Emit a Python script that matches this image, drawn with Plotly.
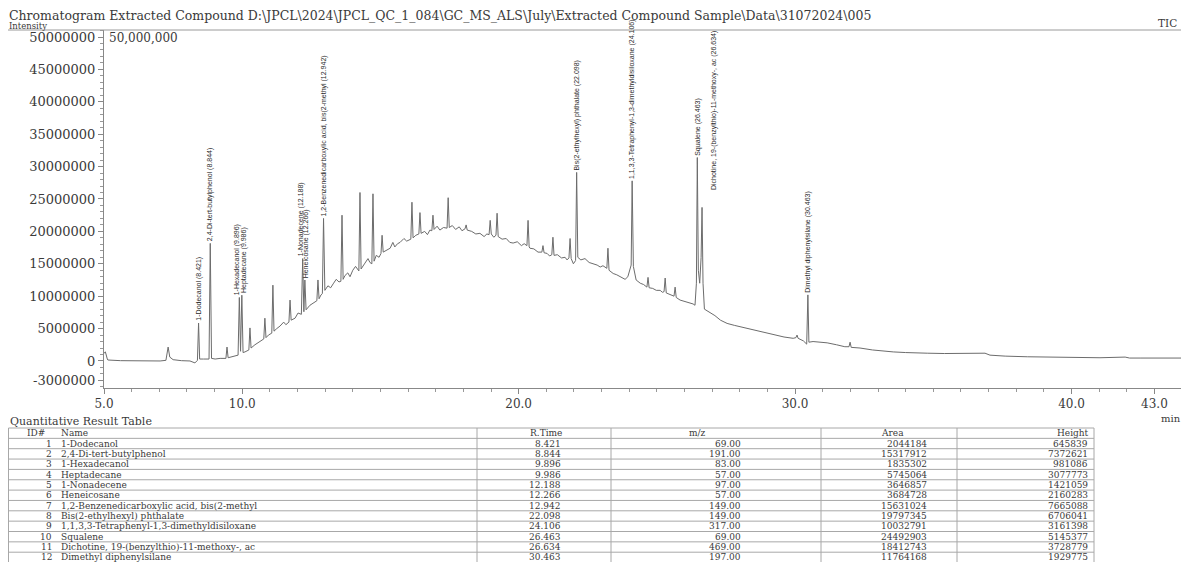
import plotly.graph_objects as go

# ---------------- chromatogram (TIC) ----------------
rt = [5.00, 5.05, 5.12, 5.14, 5.60, 6.66, 7.03, 7.24, 7.32, 7.38, 7.50, 7.80, 8.11, 8.29, 8.38, 8.421, 8.46, 8.60,
      8.80, 8.844, 8.89, 9.02, 9.20, 9.41, 9.45, 9.49, 9.56, 9.70, 9.85, 9.896, 9.94, 9.986, 10.03, 10.10, 10.24,
      10.28, 10.32, 10.46, 10.62, 10.78, 10.82, 10.86, 10.95, 11.07, 11.11, 11.15, 11.25, 11.37, 11.50, 11.58,
      11.69, 11.73, 11.77, 11.91, 12.02, 12.14, 12.188, 12.23, 12.266, 12.31, 12.45, 12.58, 12.70, 12.74, 12.78,
      12.85, 12.90, 12.942, 12.99, 13.10, 13.20, 13.29, 13.40, 13.50, 13.57, 13.61, 13.65, 13.72, 13.82, 13.90,
      14.00, 14.10, 14.22, 14.26, 14.30, 14.44, 14.55, 14.62, 14.69, 14.73, 14.77, 14.85, 14.95, 15.02, 15.06,
      15.10, 15.22, 15.35, 15.45, 15.52, 15.62, 15.71, 15.85, 15.95, 16.10, 16.14, 16.18, 16.28, 16.39, 16.43,
      16.47, 16.60, 16.70, 16.79, 16.86, 16.90, 16.94, 17.05, 17.15, 17.28, 17.41, 17.45, 17.49, 17.60, 17.72,
      17.85, 17.95, 18.06, 18.10, 18.14, 18.30, 18.45, 18.60, 18.75, 18.85, 18.93, 18.97, 19.01, 19.10, 19.18,
      19.22, 19.26, 19.40, 19.55, 19.68, 19.80, 19.95, 20.10, 20.20, 20.30, 20.34, 20.38, 20.41, 20.55, 20.70,
      20.84, 20.88, 20.92, 21.03, 21.12, 21.20, 21.24, 21.28, 21.40, 21.55, 21.68, 21.75, 21.82, 21.86, 21.90,
      21.98, 22.06, 22.098, 22.14, 22.25, 22.40, 22.55, 22.70, 22.84, 22.95, 23.05, 23.19, 23.23, 23.27, 23.42,
      23.55, 23.70, 23.85, 23.95, 24.03, 24.07, 24.106, 24.15, 24.25, 24.40, 24.52, 24.64, 24.68, 24.72, 24.85,
      24.98, 25.12, 25.20, 25.26, 25.30, 25.34, 25.45, 25.55, 25.62, 25.66, 25.70, 25.84, 26.00, 26.15, 26.31,
      26.38, 26.43, 26.463, 26.50, 26.55, 26.60, 26.634, 26.67, 26.72, 26.80, 26.92, 27.10, 27.30, 27.54, 27.80,
      28.00, 28.19, 28.45, 28.73, 29.00, 29.30, 29.60, 29.93, 30.03, 30.07, 30.11, 30.30, 30.40, 30.42, 30.463,
      30.50, 30.65, 30.90, 31.16, 31.50, 31.80, 31.95, 31.99, 32.03, 32.35, 32.80, 33.20, 33.55, 34.00, 34.40,
      34.78, 35.40, 35.97, 36.40, 36.87, 37.05, 37.60, 38.40, 39.23, 40.10, 41.03, 41.94, 42.10, 42.48, 43.30,
      44.25]
# intensity in millions of counts
intensity_m = [1.2, 1.4, 0.3, 0.15, 0.05, 0.0, 0.0, 0.1, 2.15, 0.6, 0.2, 0.05, 0.0, -0.3, 0.1, 5.85, 0.3, 0.3,
               0.3, 18.15, 0.4, 0.3, 0.4, 0.4, 2.15, 0.5, 0.6, 0.7, 0.9, 9.8, 1.5, 10.15, 1.3, 1.4, 1.7,
               5.1, 2.0, 2.5, 2.9, 3.4, 6.6, 3.6, 4.0, 4.3, 11.7, 4.6, 5.0, 5.4, 6.0, 5.6,
               6.0, 9.4, 6.3, 6.6, 7.4, 7.2, 15.8, 7.6, 12.5, 7.9, 8.6, 8.9, 9.3, 12.5, 9.6,
               10.2, 10.4, 22.0, 10.9, 11.6, 11.3, 11.9, 12.6, 12.2, 12.3, 22.5, 12.6, 13.2, 13.6, 13.0,
               14.0, 14.6, 13.9, 26.0, 14.2, 15.1, 15.8, 15.2, 15.0, 25.8, 15.4, 16.3, 16.0, 16.6, 19.4,
               16.8, 17.1, 17.4, 18.3, 17.6, 18.1, 18.3, 18.9, 18.5, 18.8, 24.5, 19.0, 19.4, 19.6, 22.9,
               19.7, 20.0, 19.5, 20.2, 20.1, 22.5, 20.3, 20.8, 20.2, 20.6, 20.5, 25.2, 20.6, 20.9, 20.3,
               20.7, 20.1, 20.4, 21.0, 20.2, 20.0, 19.6, 19.7, 19.2, 19.6, 19.5, 21.7, 19.6, 19.1, 19.4,
               22.8, 19.2, 18.8, 18.9, 18.3, 18.2, 18.4, 17.8, 18.1, 17.8, 21.7, 17.6, 17.4, 17.3, 16.8,
               16.8, 17.8, 16.7, 16.6, 16.2, 16.4, 19.1, 16.3, 16.4, 15.9, 16.0, 15.6, 15.9, 18.9, 15.8,
               15.0, 15.5, 29.1, 16.0, 15.6, 15.8, 15.2, 15.0, 14.8, 14.5, 14.7, 14.3, 17.4, 14.0, 13.5,
               13.3, 13.0, 12.6, 13.0, 14.2, 14.8, 27.8, 14.6, 12.5, 12.0, 11.8, 11.4, 12.9, 11.3, 11.2,
               10.9, 10.9, 10.6, 10.7, 12.8, 10.5, 10.3, 10.1, 10.0, 11.4, 9.8, 9.4, 9.2, 8.9, 8.8,
               8.6, 12.0, 31.4, 14.0, 12.0, 16.0, 23.7, 12.0, 8.0, 7.8, 7.4, 7.0, 6.3, 5.8, 5.5,
               5.3, 5.1, 4.8, 4.5, 4.3, 4.0, 3.7, 3.5, 3.6, 4.0, 3.5, 3.1, 2.6, 2.6, 10.2,
               2.9, 3.0, 2.9, 2.8, 2.5, 2.2, 2.2, 2.9, 2.1, 2.0, 1.7, 1.5, 1.4, 1.3, 1.2,
               1.2, 1.15, 1.2, 1.25, 1.2, 0.9, 0.75, 0.65, 0.6, 0.55, 0.5, 0.6, 0.45, 0.45, 0.45,
               0.45]

y_tick_vals = [-3, 0, 5, 10, 15, 20, 25, 30, 35, 40, 45, 50]
y_tick_text = ["-3000000", "0", "5000000", "10000000", "15000000", "20000000", "25000000",
               "30000000", "35000000", "40000000", "45000000", "50000000"]
x_tick_vals = [5, 10, 20, 30, 40, 43]
x_tick_text = ["5.0", "10.0", "20.0", "30.0", "40.0", "43.0"]

# ---------------- identified peaks / result table ----------------
ids = ["1", "2", "3", "4", "5", "6", "7", "8", "9", "10", "11", "12"]
names = ["1-Dodecanol", "2,4-Di-tert-butylphenol", "1-Hexadecanol", "Heptadecane", "1-Nonadecene",
         "Heneicosane", "1,2-Benzenedicarboxylic acid, bis(2-methyl", "Bis(2-ethylhexyl) phthalate",
         "1,1,3,3-Tetraphenyl-1,3-dimethyldisiloxane", "Squalene",
         "Dichotine, 19-(benzylthio)-11-methoxy-, ac", "Dimethyl diphenylsilane"]
r_times = ["8.421", "8.844", "9.896", "9.986", "12.188", "12.266", "12.942", "22.098", "24.106", "26.463",
           "26.634", "30.463"]
mz = ["69.00", "191.00", "83.00", "57.00", "97.00", "57.00", "149.00", "149.00", "317.00", "69.00", "469.00",
      "197.00"]
areas = ["2044184", "15317912", "1835302", "5745064", "3646857", "3684728", "15631024", "19797345", "10032791",
         "24492903", "18412743", "11764168"]
heights = ["645839", "7372621", "981086", "3077773", "1421059", "2160283", "7665088", "6706041", "3161398",
           "5145377", "3728779", "1929775"]
peak_top_m = [5.85, 18.15, 9.8, 10.15, 15.8, 12.5, 22.0, 29.1, 27.8, 31.4, 26.0, 10.2]

# ---------------- layout helpers (reference pixel -> paper) ----------------
# the page body has an 8px margin, so the figure is drawn 8px smaller and coordinates are offset
OFF = 8
W, H = 1189 - OFF, 562 - OFF

def px(x):
    return (x - OFF) / W

def py(y):
    return 1 - (y - OFF) / H

SERIF = "DejaVu Serif"
TXT = "#3a3a3a"

fig = go.Figure()
fig.add_trace(go.Scatter(x=rt, y=intensity_m, mode="lines",
                         line=dict(color="#6c6c6c", width=1), hoverinfo="skip", showlegend=False))

annotations = []
# peak labels (vertical text)
xshifts = [0, 0, -2, 2, -2, 2, 0, 0, 0, 0, 12, 0]
for i in range(len(r_times)):
    annotations.append(dict(
        x=float(r_times[i]), y=peak_top_m[i], xref="x", yref="y",
        text=f"{names[i]} ({r_times[i]})", textangle=-90, showarrow=False,
        xanchor="center", yanchor="bottom", yshift=1, xshift=xshifts[i], borderpad=0,
        font=dict(family="Liberation Sans", size=7, color="#2a2a2a")))

# header texts
annotations += [
    dict(x=px(8), y=py(15.8), xref="paper", yref="paper", xanchor="left", yanchor="middle", showarrow=False,
         borderpad=0,
         text="Chromatogram Extracted Compound D:\\JPCL\\2024\\JPCL_QC_1_084\\GC_MS_ALS\\July\\Extracted Compound Sample\\Data\\31072024\\005",
         font=dict(family=SERIF, size=12.5, color=TXT)),
    dict(x=px(8), y=py(25.6), xref="paper", yref="paper", xanchor="left", yanchor="middle", showarrow=False,
         borderpad=0, text="Intensity", font=dict(family=SERIF, size=8.5, color=TXT)),
    dict(x=px(1178), y=py(23), xref="paper", yref="paper", xanchor="right", yanchor="middle", showarrow=False,
         borderpad=0, text="TIC", font=dict(family=SERIF, size=10.5, color=TXT)),
    dict(x=px(108), y=py(38), xref="paper", yref="paper", xanchor="left", yanchor="middle", showarrow=False,
         borderpad=0, text="50,000,000", font=dict(family=SERIF, size=12, color=TXT)),
    dict(x=px(1182), y=py(418), xref="paper", yref="paper", xanchor="right", yanchor="middle", showarrow=False,
         borderpad=0, text="min", font=dict(family=SERIF, size=10, color=TXT)),
    dict(x=px(9), y=py(421), xref="paper", yref="paper", xanchor="left", yanchor="middle", showarrow=False,
         borderpad=0, text="Quantitative Result Table", font=dict(family=SERIF, size=11, color=TXT)),
]

# table grid
TOP = 428.0
ROW = 10.35
col_lines = [8.5, 477, 611, 821, 957, 1094]
shapes = [dict(type="line", xref="paper", yref="paper", x0=0, x1=1, y0=py(30), y1=py(30),
               line=dict(color="#9a9a9a", width=1))]
for k in range(14):
    yy = TOP + k * ROW
    if yy > 562:
        break
    shapes.append(dict(type="line", xref="paper", yref="paper", x0=px(8.5), x1=px(1094), y0=py(yy), y1=py(yy),
                       line=dict(color="#a8a8a8", width=1)))
for cx in col_lines:
    shapes.append(dict(type="line", xref="paper", yref="paper", x0=px(cx), x1=px(cx), y0=py(TOP), y1=0,
                       line=dict(color="#a8a8a8", width=1)))

TFONT = dict(family=SERIF, size=9, color=TXT)
hdr_y = TOP + ROW / 2
headers = [("ID#", 36, "center"), ("Name", 60, "left"), ("R.Time", 546, "center"), ("m/z", 697, "center"),
           ("Area", 892, "center"), ("Height", 1090, "right")]
for txt, hx, anc in headers:
    annotations.append(dict(x=px(hx), y=py(hdr_y), xref="paper", yref="paper", xanchor=anc, yanchor="middle",
                            showarrow=False, borderpad=0, text=txt, font=TFONT))
for i in range(len(ids)):
    yc = hdr_y + (i + 1) * ROW
    cells = [(ids[i], 53, "right"), (names[i], 60, "left"), (r_times[i], 562, "right"), (mz[i], 742, "right"),
             (areas[i], 928, "right"), (heights[i], 1089, "right")]
    for txt, cx, anc in cells:
        annotations.append(dict(x=px(cx), y=py(yc), xref="paper", yref="paper", xanchor=anc, yanchor="middle",
                                showarrow=False, borderpad=0, text=txt, font=TFONT))

fig.update_layout(
    width=W, height=H, margin=dict(l=0, r=0, t=0, b=0),
    paper_bgcolor="white", plot_bgcolor="white", showlegend=False,
    annotations=annotations, shapes=shapes,
    xaxis=dict(domain=[px(104), 1.0], range=[5, 44.25], tickmode="array", tickvals=x_tick_vals,
               ticktext=x_tick_text, ticks="outside", ticklen=5, tickcolor="#888", showline=True,
               linecolor="#888", linewidth=1, showgrid=False, zeroline=False, automargin=False,
               tickfont=dict(family=SERIF, size=12, color=TXT),
               minor=dict(ticks="outside", dtick=1, tick0=0, ticklen=3, tickcolor="#999")),
    yaxis=dict(domain=[py(388), py(30)], range=[-4.17, 51.08], tickmode="array", tickvals=y_tick_vals,
               ticktext=y_tick_text, ticks="outside", ticklen=5, tickcolor="#888", showline=True,
               linecolor="#888", linewidth=1, showgrid=False, zeroline=False, automargin=False,
               tickfont=dict(family=SERIF, size=13, color=TXT),
               minor=dict(ticks="outside", dtick=1, tick0=0, ticklen=3, tickcolor="#999")),
)

fig.write_html("out.html")
